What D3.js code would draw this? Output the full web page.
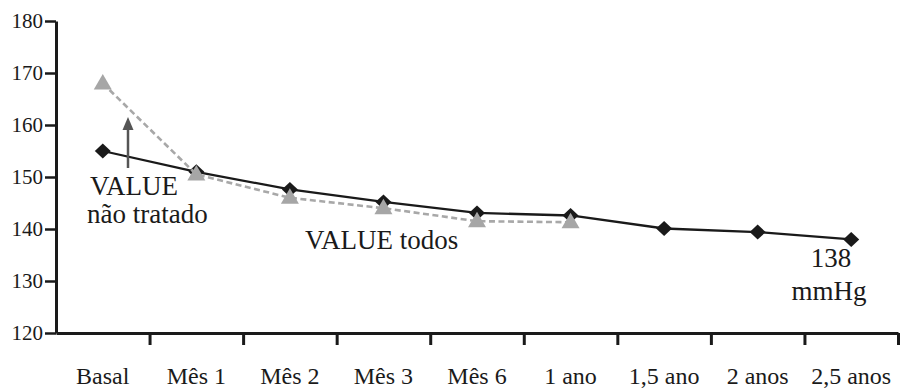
<!DOCTYPE html>
<html>
<head>
<meta charset="utf-8">
<script src="https://cdn.jsdelivr.net/npm/d3@7/dist/d3.min.js"></script>
<style>
  html, body { margin: 0; padding: 0; background: #fff; }
  svg { display: block; }
</style>
</head>
<body>
<svg id="chart" width="901" height="391"></svg>
<script>
// Time points of follow-up
const categories = ["Basal", "Mês 1", "Mês 2", "Mês 3", "Mês 6", "1 ano", "1,5 ano", "2 anos", "2,5 anos"];
// Systolic pressure, all patients (mmHg)
const todos = [155, 151, 147.6, 145.2, 143.1, 142.6, 140.1, 139.4, 138];
// Systolic pressure, untreated subgroup (mmHg) – followed up to 1 year
const naoTratado = [168, 150.5, 146, 144, 141.5, 141.3];
const yTicks = [120, 130, 140, 150, 160, 170, 180];

const FONT = "'Liberation Serif', 'Times New Roman', Tinos, 'DejaVu Serif', serif";
const INK = "#1a1a1a";

const svg = d3.select("#chart").attr("font-family", FONT);
const plotLeft = 56, plotRight = 898, plotTop = 21, plotBottom = 333;

const x = d3.scaleBand().domain(categories).range([plotLeft, plotRight]).padding(0);
const y = d3.scaleLinear().domain([120, 180]).range([plotBottom, plotTop]);
const cx = d => x(d) + x.bandwidth() / 2;

// Y axis
const yAxis = svg.append("g")
  .attr("transform", `translate(${plotLeft},0)`)
  .call(d3.axisLeft(y).tickValues(yTicks).tickSize(11).tickPadding(2).tickSizeOuter(0))
  .attr("font-family", FONT);
yAxis.select(".domain").attr("stroke", INK).attr("stroke-width", 3);
yAxis.selectAll(".tick line").attr("stroke", INK).attr("stroke-width", 2.5);
yAxis.selectAll(".tick text")
  .attr("font-size", 21).attr("fill", INK)
  .attr("font-family", FONT);

// X axis: ticks at the band boundaries, labels centred in each band
const xb = d3.scaleLinear().domain([0, categories.length]).range([plotLeft, plotRight]);
const xAxis = svg.append("g")
  .attr("transform", `translate(0,${plotBottom})`)
  .call(d3.axisBottom(xb).tickValues(d3.range(1, categories.length + 1)).tickSize(12).tickFormat("").tickSizeOuter(0));
xAxis.select(".domain").attr("stroke", INK).attr("stroke-width", 3);
xAxis.selectAll(".tick line").attr("stroke", INK).attr("stroke-width", 3);

svg.append("g").selectAll("text")
  .data(categories).join("text")
  .attr("x", d => cx(d))
  .attr("y", 384)
  .attr("text-anchor", "middle")
  .attr("font-family", FONT)
  .attr("font-size", 24)
  .attr("fill", INK)
  .text(d => d);

// Series lines
const line = d3.line().x(d => cx(d[0])).y(d => y(d[1]));
const todosPts = categories.map((c, i) => [c, todos[i]]);
const ntPts = naoTratado.map((v, i) => [categories[i], v]);

svg.append("path").datum(todosPts)
  .attr("d", line).attr("fill", "none")
  .attr("stroke", INK).attr("stroke-width", 2.3);

svg.append("g").selectAll("path")
  .data(todosPts).join("path")
  .attr("transform", d => `translate(${cx(d[0])},${y(d[1])})`)
  .attr("d", "M0,-7.5L8,0L0,7.5L-8,0Z")
  .attr("fill", INK);

svg.append("path").datum(ntPts)
  .attr("d", line).attr("fill", "none")
  .attr("stroke", "#a8a8a8").attr("stroke-width", 2.6)
  .attr("stroke-dasharray", "6,3.5");

svg.append("g").selectAll("path")
  .data(ntPts).join("path")
  .attr("transform", d => `translate(${cx(d[0])},${y(d[1])})`)
  .attr("d", "M0,-9.5L9,6L-9,6Z")
  .attr("fill", "#a6a6a6");

// Arrow pointing to the untreated series
const ax = 128;
svg.append("line")
  .attr("x1", ax).attr("x2", ax).attr("y1", 168).attr("y2", 128)
  .attr("stroke", "#555").attr("stroke-width", 2.5);
svg.append("path")
  .attr("d", `M${ax},117L${ax + 5.5},130L${ax - 5.5},130Z`)
  .attr("fill", "#555");

// Annotations
const note = (tx, ty, s, anchor) => svg.append("text")
  .attr("x", tx).attr("y", ty)
  .attr("text-anchor", anchor || "start")
  .attr("font-family", FONT).attr("font-size", 27).attr("fill", INK)
  .text(s);
note(90, 195, "VALUE");
note(87, 223, "não tratado");
note(305, 249, "VALUE todos");
note(831, 267, "138", "middle");
note(829, 300, "mmHg", "middle");
</script>
</body>
</html>
